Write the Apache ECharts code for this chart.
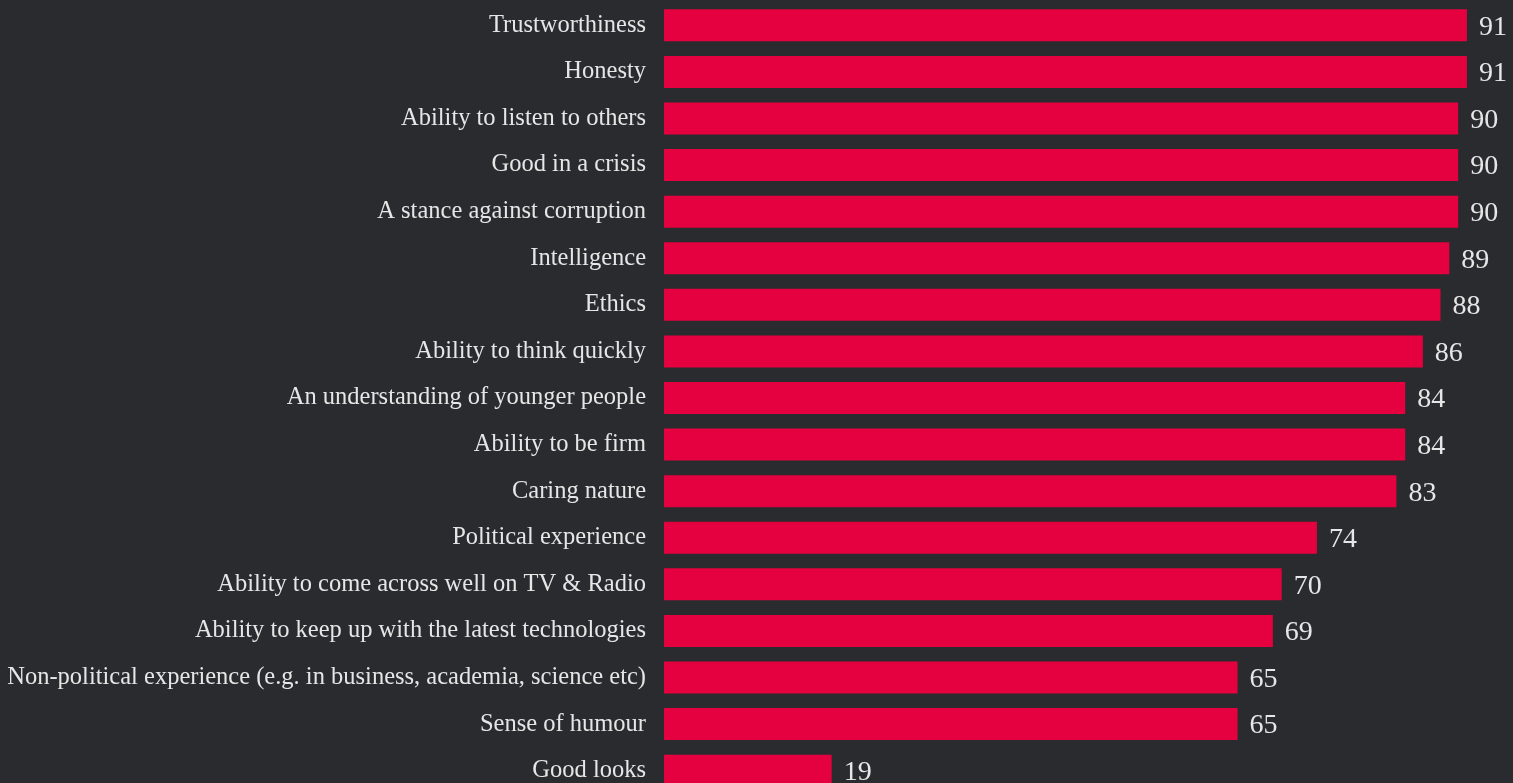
<!DOCTYPE html>
<html>
<head>
<meta charset="utf-8">
<style>
  html, body { margin: 0; padding: 0; background: #2a2b2e; }
  #chart { width: 1513px; height: 783px; }
</style>
<script src="https://cdn.jsdelivr.net/npm/echarts@6/dist/echarts.min.js"></script>
</head>
<body>
<div id="chart"></div>
<script>
// Qualities people look for in a leader (% saying important)
const qualities = [
  'Trustworthiness',
  'Honesty',
  'Ability to listen to others',
  'Good in a crisis',
  'A stance against corruption',
  'Intelligence',
  'Ethics',
  'Ability to think quickly',
  'An understanding of younger people',
  'Ability to be firm',
  'Caring nature',
  'Political experience',
  'Ability to come across well on TV & Radio',
  'Ability to keep up with the latest technologies',
  'Non-political experience (e.g. in business, academia, science etc)',
  'Sense of humour',
  'Good looks'
];
const shares = [91, 91, 90, 90, 90, 89, 88, 86, 84, 84, 83, 74, 70, 69, 65, 65, 19];

const chart = echarts.init(document.getElementById('chart'), null, { renderer: 'canvas' });
chart.setOption({
  backgroundColor: '#2a2b2e',
  animation: false,
  grid: {
    left: 664, top: 2, width: 882.4, height: 792,
    containLabel: false,
    outerBoundsMode: 'none'
  },
  xAxis: {
    type: 'value', min: 0, max: 100,
    show: false
  },
  yAxis: {
    type: 'category',
    data: qualities,
    inverse: true,
    axisLine: { show: false },
    axisTick: { show: false },
    splitLine: { show: false },
    axisLabel: {
      color: '#e6e6e6',
      fontFamily: 'Liberation Serif',
      fontSize: 24.5,
      margin: 18
    }
  },
  series: [{
    type: 'bar',
    data: shares,
    barWidth: 32,
    itemStyle: { color: '#e5003f' },
    label: {
      show: true,
      position: 'right',
      distance: 12,
      color: '#e6e6e6',
      fontFamily: 'Liberation Serif',
      fontSize: 28,
      offset: [0, 2]
    }
  }]
});
</script>
</body>
</html>
